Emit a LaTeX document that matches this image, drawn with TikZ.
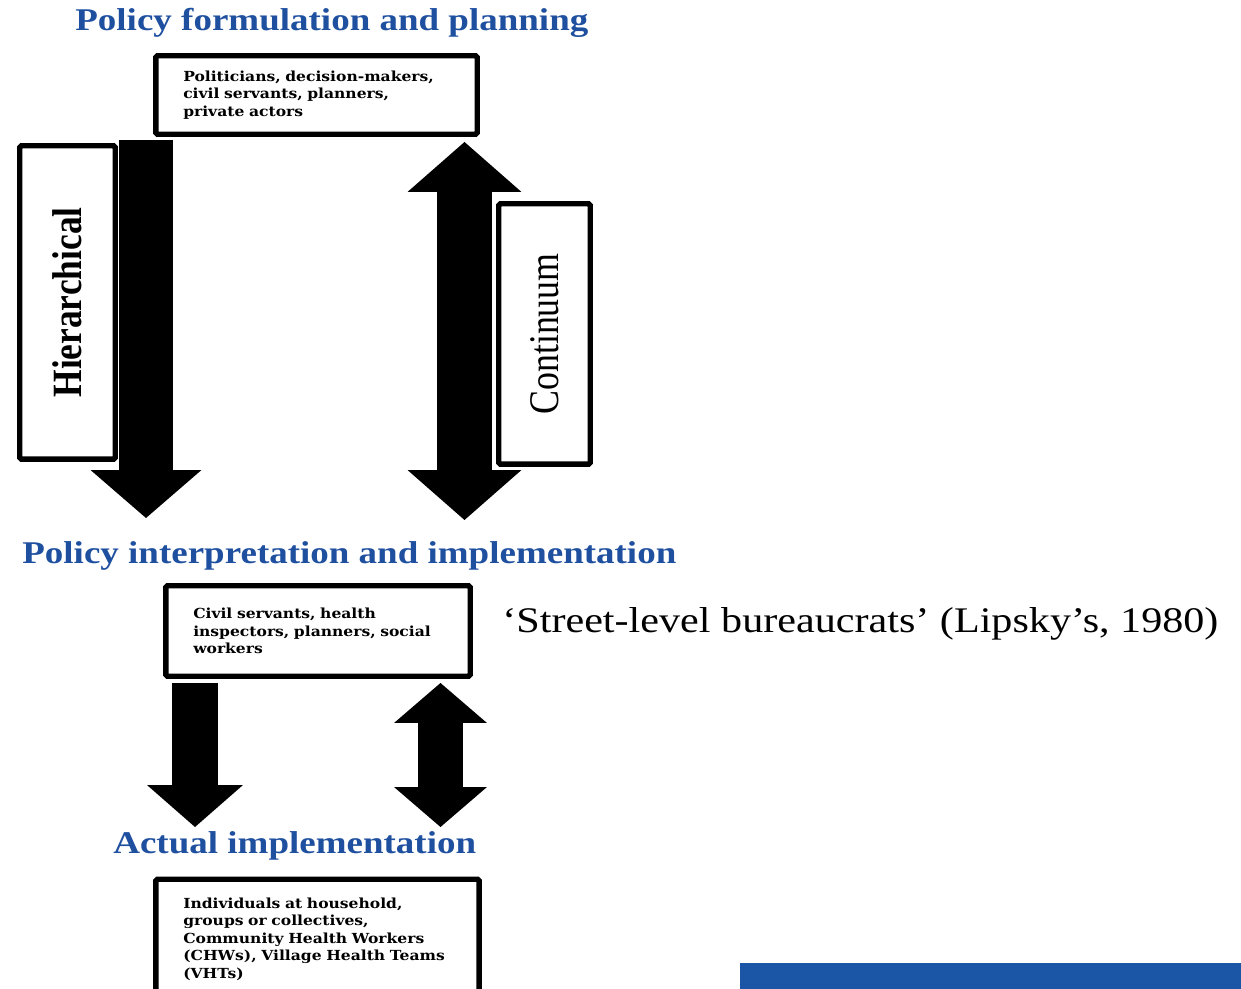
\documentclass[tikz,border=0pt]{standalone}
\usepackage{fontspec}
\usetikzlibrary{arrows.meta}
\setmainfont{Liberation Serif}
\newfontfamily\headfont[FakeStretch=1.17]{Liberation Serif}
\newfontfamily\sidefont[FakeStretch=0.85]{Liberation Serif}
\newfontfamily\actorfont[FakeStretch=1.12]{DejaVu Serif}
\definecolor{headblue}{HTML}{1F50A0}
\definecolor{barblue}{HTML}{1B55A5}

\tikzset{
	actorbox/.style={draw, line width=3.1pt, rounded corners=1pt, fill=white, align=left, inner xsep=0.55cm, inner ysep=0pt, font=\actorfont\bfseries\fontsize{7.9}{10}\selectfont},
	sidebox/.style={draw, line width=3.1pt, rounded corners=1pt, fill=white, rotate=90, inner sep=0pt},
	heading/.style={anchor=base west, inner sep=0pt, text=headblue, font=\headfont\bfseries\fontsize{18}{20}\selectfont},
	blockdown/.style n args={3}{line width=#1, -{Triangle[width=#2,length=#3,line width=0pt]}},
	blockboth/.style n args={3}{line width=#1, {Triangle[width=#2,length=#3,line width=0pt]}-{Triangle[width=#2,length=#3,line width=0pt]}}
}

\begin{document}
\begin{tikzpicture}[x=0.02cm, y=-0.02cm]
			%%%%% START %%%%%
			\useasboundingbox (0, 0) rectangle (1241, 989);
			
			% block arrows, upper part
			\coordinate (hiertop) at (146, 140);
			\coordinate (hiertip) at (146, 518);
			\coordinate (conttop) at (464.5, 142);
			\coordinate (conttip) at (464.5, 520);
			\draw[blockdown={1.08cm}{2.22cm}{0.96cm}] (hiertop) -- (hiertip);
			\draw[blockboth={1.1cm}{2.28cm}{1.0cm}] (conttop) -- (conttip);
			
			% block arrows, lower part
			\coordinate (streettop) at (195, 683);
			\coordinate (streettip) at (195, 827);
			\coordinate (backtop) at (440.5, 683);
			\coordinate (backtip) at (440.5, 827);
			\draw[blockdown={0.92cm}{1.92cm}{0.84cm}] (streettop) -- (streettip);
			\draw[blockboth={0.9cm}{1.86cm}{0.8cm}] (backtop) -- (backtip);
			
			% headings
			\node[heading] (formhead) at (75, 31) {Policy formulation and planning};
			\node[heading] (interphead) at (22, 564) {Policy interpretation and implementation};
			\node[heading] (acthead) at (113, 853) {Actual implementation};
			
			% actor boxes
			\node[actorbox, text width=5.33cm, minimum height=1.57cm] (polbox) at (316.5, 95)
				{Politicians, decision-makers,\\civil servants, planners,\\private actors};
			\node[actorbox, text width=4.99cm, minimum height=1.81cm] (implbox) at (318, 631)
				{Civil servants, health\\inspectors, planners, social\\workers};
			\node[actorbox, text width=5.37cm, minimum height=2.39cm] (actbox) at (317.5, 939)
				{Individuals at household,\\groups or collectives,\\Community Health Workers\\(CHWs), Village Health Teams\\(VHTs)};
			
			% side labels
			\node[sidebox, minimum width=6.27cm, minimum height=1.91cm, font=\sidefont\bfseries\fontsize{23.7}{24}\selectfont] (hierbox) at (67.5, 302.5) {Hierarchical};
			\node[sidebox, minimum width=5.21cm, minimum height=1.83cm, font=\sidefont\fontsize{24}{24}\selectfont] (contbox) at (544.5, 334) {Continuum};
			
			\node[anchor=base west, inner sep=0pt, font=\headfont\fontsize{20.5}{22}\selectfont] (lipsky) at (502, 632) {‘Street-level bureaucrats’ (Lipsky’s, 1980)};
			
			\fill[barblue] (740, 963) rectangle (1241, 989);
			%%%%% END %%%%%
\end{tikzpicture}
\end{document}
